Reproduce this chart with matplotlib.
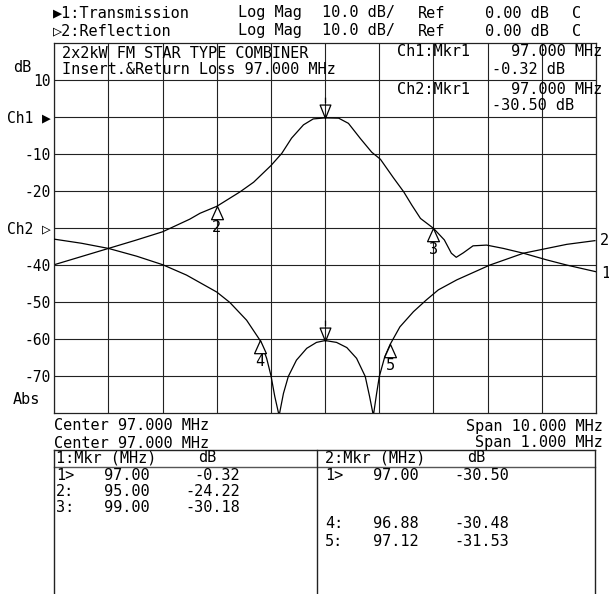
import numpy as np
import matplotlib.pyplot as plt
from matplotlib.path import Path
from matplotlib.lines import Line2D

# --- FIGURE / FONT ---
W, H = 609, 594
MONO = ['DejaVu Sans Mono', 'DejaVu Sans']
FS = 11
plt.rcParams['font.family'] = MONO
plt.rcParams['font.size'] = FS

# --- CH1: TRANSMISSION (center 97 MHz, span 10 MHz) ---
ch1_freq = [92.00, 92.50, 93.00, 93.50, 94.00, 94.50, 94.69, 95.00, 95.43, 95.68,
            96.00, 96.20, 96.38, 96.60, 96.78, 97.00, 97.25, 97.43, 97.65, 97.86,
            98.02, 98.26, 98.45, 98.60, 98.76, 98.94, 99.00, 99.20, 99.33, 99.42,
            99.55, 99.73, 99.98, 100.29, 100.66, 101.09, 101.46, 102.00]
ch1_db = [-40.0, -37.8, -35.6, -33.4, -31.1, -27.7, -26.1, -24.22, -20.3, -17.7,
          -13.2, -9.9, -5.8, -2.2, -0.6, -0.32, -0.4, -1.8, -5.9, -9.6,
          -11.5, -16.5, -20.3, -23.9, -27.5, -29.5, -30.18, -33.3, -36.9, -38.0,
          -36.8, -34.9, -34.7, -35.6, -36.9, -38.7, -40.1, -41.9]

# --- CH2: REFLECTION (center 97 MHz, span 1 MHz, ref line at -30 division) ---
ch2_freq = [96.500, 96.550, 96.600, 96.652, 96.700, 96.744, 96.800, 96.824, 96.855, 96.880,
            96.892, 96.900, 96.907, 96.915, 96.923, 96.932, 96.947, 96.966, 96.984, 97.000,
            97.021, 97.040, 97.058, 97.074, 97.082, 97.089, 97.095, 97.100, 97.110, 97.120,
            97.138, 97.163, 97.187, 97.209, 97.243, 97.304, 97.366, 97.446, 97.498]
ch2_db = [-3.1, -4.2, -5.6, -7.7, -10.0, -12.8, -17.4, -20.2, -25.0, -30.48,
          -35.3, -40.0, -45.6, -50.8, -44.8, -40.2, -35.8, -32.6, -31.0, -30.50,
          -31.0, -32.4, -35.3, -40.2, -45.6, -50.8, -44.8, -40.2, -34.9, -31.53,
          -26.8, -22.7, -19.5, -16.8, -14.1, -10.1, -6.9, -4.5, -3.5]

# --- MARKER TABLES ---
ch1_mkr_id = [1, 2, 3]
ch1_mkr_freq = [97.00, 95.00, 99.00]
ch1_mkr_db = [-0.32, -24.22, -30.18]
ch2_mkr_id = [1, 4, 5]
ch2_mkr_freq = [97.00, 96.88, 97.12]
ch2_mkr_db = [-30.50, -30.48, -31.53]

# --- SCALE ---
ch1_center, ch1_span = 97.0, 10.0
ch2_center, ch2_span = 97.0, 1.0
ch1_ref_div, ch2_ref_div = 0.0, -30.0
y_ticks = [-70, -60, -50, -40, -30, -20, -10, 0, 10]
y_labels = ['-70', '-60', '-50', '-40', 'Ch2 \u25b7', '-20', '-10', 'Ch1 \u25b6', '10']


def fx(x):
    return x / W


def fy(y):
    return 1 - y / H


fig = plt.figure(figsize=(W / 100, H / 100), dpi=100)
fig.patch.set_facecolor('white')

ax_l, ax_r, ax_t, ax_b = 54.3, 596.0, 42.7, 412.7
pos = [fx(ax_l), fy(ax_b), (ax_r - ax_l) / W, (ax_b - ax_t) / H]
ax = fig.add_axes(pos)
ax.set_xlim(ch1_center - ch1_span / 2, ch1_center + ch1_span / 2)
ax.set_ylim(-80 - ch1_ref_div, 20 - ch1_ref_div)
ax.set_xticks(np.arange(92, 103, 1))
ax.set_yticks(y_ticks)
ax.set_yticklabels(y_labels, fontsize=10.5)
ax.tick_params(length=0, labelbottom=False, pad=2.5)
ax.grid(True, color='#222222', lw=0.8)
for s in ax.spines.values():
    s.set_color('#222222')
    s.set_linewidth(0.9)

# Ch2 drawn on its own frequency scale over the same graticule
ax2 = fig.add_axes(pos, facecolor='none')
ax2.set_xlim(ch2_center - ch2_span / 2, ch2_center + ch2_span / 2)
ax2.set_ylim(-80 - ch2_ref_div, 20 - ch2_ref_div)
ax2.axis('off')

ax.plot(ch1_freq, ch1_db, color='black', lw=0.9)
ax2.plot(ch2_freq, ch2_db, color='black', lw=0.9)

# marker shapes (apex sits on the trace)
up_tri = Path([(0, 0), (-0.45, -1), (0.45, -1), (0, 0)],
              [Path.MOVETO, Path.LINETO, Path.LINETO, Path.CLOSEPOLY])
down_tri = Path([(0, 0), (-0.4, 1), (0.4, 1), (0, 0), (0, 1.15), (0, 1.55)],
                [Path.MOVETO, Path.LINETO, Path.LINETO, Path.CLOSEPOLY,
                 Path.MOVETO, Path.LINETO])


def draw_markers(a, ids, fr, db):
    for i, f, d in zip(ids, fr, db):
        if i == 1:
            a.plot(f, d, marker=down_tri, ms=30, mfc='none', mec='black', mew=0.9)
        else:
            a.plot(f, d, marker=up_tri, ms=19, mfc='white', mec='black', mew=0.9)
            a.annotate(str(i), (f, d), xytext=(0, -10), textcoords='offset points',
                       ha='center', va='top', fontsize=FS)


draw_markers(ax, ch1_mkr_id, ch1_mkr_freq, ch1_mkr_db)
draw_markers(ax2, ch2_mkr_id, ch2_mkr_freq, ch2_mkr_db)

# trace labels at the right edge
ax.annotate('1', (ch1_freq[-1], ch1_db[-1]), xytext=(3.5, -1), textcoords='offset points',
            ha='left', va='center', fontsize=FS, annotation_clip=False)
ax2.annotate('2', (ch2_freq[-1], ch2_db[-1]), xytext=(3.5, 0), textcoords='offset points',
             ha='left', va='center', fontsize=FS, annotation_clip=False)

# --- HEADER ---
for y, name in [(13, '\u25b61:Transmission'), (31, '\u25b72:Reflection')]:
    fig.text(fx(53), fy(y), name, ha='left', va='center')
    fig.text(fx(238), fy(y), 'Log Mag', ha='left', va='center')
    fig.text(fx(322), fy(y), '10.0 dB/', ha='left', va='center')
    fig.text(fx(418), fy(y), 'Ref', ha='left', va='center')
    fig.text(fx(485), fy(y), '0.00 dB', ha='left', va='center')
    fig.text(fx(572), fy(y), 'C', ha='left', va='center')

fig.text(fx(13), fy(67), 'dB', ha='left', va='center')
fig.text(fx(13), fy(400), 'Abs', ha='left', va='center')

# annotation box inside graticule
fig.text(fx(62), fy(53), '2x2kW FM STAR TYPE COMBINER', ha='left', va='center')
fig.text(fx(62), fy(69), 'Insert.&Return Loss 97.000 MHz', ha='left', va='center')
fig.text(fx(397), fy(52), 'Ch1:Mkr1', ha='left', va='center')
fig.text(fx(602), fy(52), f'{ch1_mkr_freq[0]:.3f} MHz', ha='right', va='center')
fig.text(fx(492), fy(70), f'{ch1_mkr_db[0]:.2f} dB', ha='left', va='center')
fig.text(fx(397), fy(90), 'Ch2:Mkr1', ha='left', va='center')
fig.text(fx(602), fy(90), f'{ch2_mkr_freq[0]:.3f} MHz', ha='right', va='center')
fig.text(fx(492), fy(106), f'{ch2_mkr_db[0]:.2f} dB', ha='left', va='center')

# --- FOOTER ---
fig.text(fx(54), fy(426), f'Center {ch1_center:.3f} MHz', ha='left', va='center')
fig.text(fx(54), fy(443), f'Center {ch2_center:.3f} MHz', ha='left', va='center')
fig.text(fx(603), fy(426), f'Span {ch1_span:.3f} MHz', ha='right', va='center')
fig.text(fx(603), fy(443), f'Span {ch2_span:.3f} MHz', ha='right', va='center')

# --- MARKER TABLE ---
tl, tm, tr, tt, th = 54.3, 317.3, 595.0, 450.0, 467.0
for xs, ys, c in [([tl, tr], [tt, tt], '#222222'), ([tl, tr], [th, th], '#555555'),
                  ([tl, tl], [tt, H], '#222222'), ([tm, tm], [tt, H], '#222222'),
                  ([tr, tr], [tt, H], '#222222')]:
    fig.add_artist(Line2D([fx(v) for v in xs], [fy(v) for v in ys], color=c, lw=1.0))

row_y = [475, 492, 508, 524, 541]
for x0, ch, ids, fr, db in [(56, 1, ch1_mkr_id, ch1_mkr_freq, ch1_mkr_db),
                            (325, 2, ch2_mkr_id, ch2_mkr_freq, ch2_mkr_db)]:
    fig.text(fx(x0), fy(458), f'{ch}:Mkr (MHz)', ha='left', va='center')
    fig.text(fx(x0 + 142), fy(458), 'dB', ha='left', va='center')
    for i, f, d in zip(ids, fr, db):
        y = row_y[i - 1]
        fig.text(fx(x0), fy(y), f'{i}>' if i == 1 else f'{i}:', ha='left', va='center')
        fig.text(fx(x0 + 48), fy(y), f'{f:.2f}', ha='left', va='center')
        fig.text(fx(x0 + 184), fy(y), f'{d:.2f}', ha='right', va='center')

fig.savefig('out.png', dpi=100)
